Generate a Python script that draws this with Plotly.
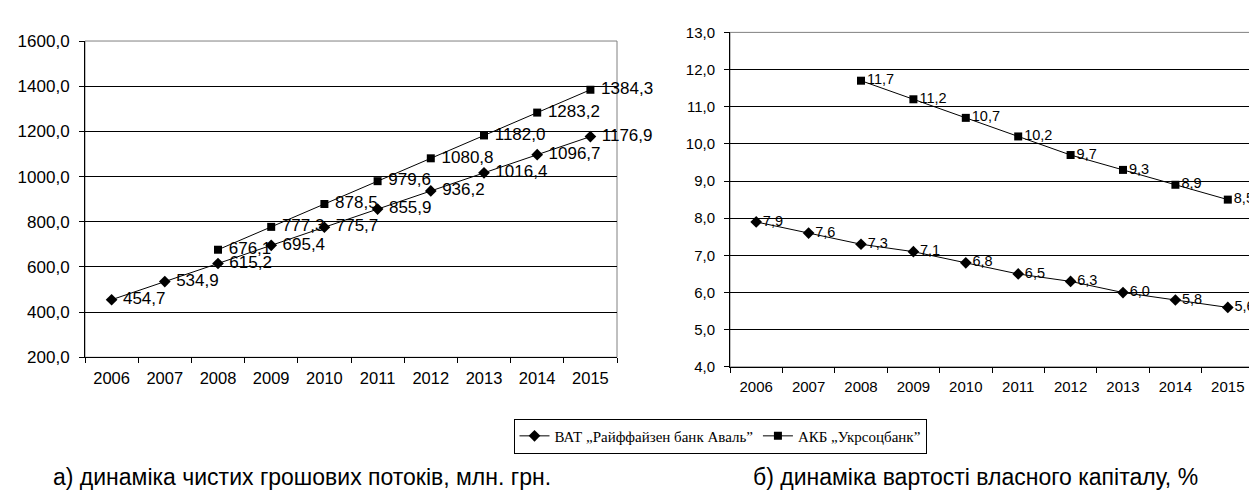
import plotly.graph_objects as go

years = ["2006", "2007", "2008", "2009", "2010", "2011", "2012", "2013", "2014", "2015"]
years_usb = ["2008", "2009", "2010", "2011", "2012", "2013", "2014", "2015"]

# a) net cash flows, mln UAH
aval_cash = [454.7, 534.9, 615.2, 695.4, 775.7, 855.9, 936.2, 1016.4, 1096.7, 1176.9]
usb_cash = [676.1, 777.3, 878.5, 979.6, 1080.8, 1182.0, 1283.2, 1384.3]

# b) cost of equity, %
aval_eq = [7.9, 7.6, 7.3, 7.1, 6.8, 6.5, 6.3, 6.0, 5.8, 5.6]
usb_eq = [11.7, 11.2, 10.7, 10.2, 9.7, 9.3, 8.9, 8.5]

name_aval = "ВАТ „Райффайзен банк Аваль”"
name_usb = "АКБ „Укрсоцбанк”"
caption_a = "а) динаміка чистих грошових потоків, млн. грн."
caption_b = "б) динаміка вартості власного капіталу, %"


def fmt(v, pad):
    return pad + ("%.1f" % v).replace(".", ",")


W, H = 1257, 490
fig = go.Figure()

FONT = "Liberation Sans, Arial, sans-serif"


def add(x, y, sym, name, xa, ya, show, size, pad):
    fig.add_trace(go.Scatter(
        x=x, y=y, mode="lines+markers+text", name=name,
        text=[fmt(v, pad) for v in y], textposition="middle right",
        textfont=dict(family=FONT, size=size, color="black"),
        line=dict(color="black", width=1),
        marker=dict(symbol=sym, size=9 if sym == "diamond" else 8, color="black"),
        xaxis=xa, yaxis=ya, showlegend=show, cliponaxis=False,
    ))


add(years, aval_cash, "diamond", name_aval, "x", "y", True, 17, " ")
add(years_usb, usb_cash, "square", name_usb, "x", "y", True, 17, " ")
add(years, aval_eq, "diamond", name_aval, "x2", "y2", False, 14.5, "")
add(years_usb, usb_eq, "square", name_usb, "x2", "y2", False, 14.5, "")


def px_x(a, b):
    return [a / W, b / W]


def px_y(top, bottom):
    return [1 - bottom / H, 1 - top / H]


xcommon = dict(type="category", categoryorder="array", categoryarray=years,
               range=[-0.5, 9.5], showline=True, linecolor="black", linewidth=1,
               ticks="outside", tickson="boundaries", ticklen=5, tickcolor="black",
               showgrid=False, zeroline=False, ticklabelstandoff=6)
ycommon = dict(showline=True, linecolor="black", linewidth=1, ticks="outside",
               ticklen=5, tickcolor="black", showgrid=True, gridcolor="black",
               gridwidth=1, zeroline=False, tickformat=".1f", ticklabelstandoff=6)

fig.update_layout(
    width=W, height=H, margin=dict(l=0, r=0, t=0, b=0),
    paper_bgcolor="white", plot_bgcolor="white",
    separators=", ",
    font=dict(family=FONT, color="black"),
    xaxis=dict(domain=px_x(77, 609), anchor="y", tickfont=dict(size=16.5), **xcommon),
    yaxis=dict(domain=px_y(25, 354), anchor="x", range=[200, 1600], dtick=200,
               tickfont=dict(size=17), **ycommon),
    xaxis2=dict(domain=px_x(722, 1246), anchor="y2", tickfont=dict(size=15), **xcommon),
    yaxis2=dict(domain=px_y(16, 364), anchor="x2", range=[4, 13], dtick=1,
                tickfont=dict(size=15), **ycommon),
    legend=dict(orientation="h", x=712 / W, y=1 - 436 / H, xanchor="center", yanchor="middle",
                bordercolor="black", borderwidth=1, bgcolor="white",
                font=dict(family="Liberation Serif, Times New Roman, serif", size=15),
                itemwidth=30, tracegroupgap=0),
    shapes=[
        dict(type="rect", xref="x domain", yref="y domain", x0=0, x1=1, y0=0, y1=1,
             line=dict(color="#808080", width=1), layer="below"),
        dict(type="rect", xref="x2 domain", yref="y2 domain", x0=0, x1=1, y0=0, y1=1,
             line=dict(color="#808080", width=1), layer="below"),
    ],
    annotations=[
        dict(text=caption_a, xref="paper", yref="paper", x=43 / W, y=1 - 479 / H,
             xanchor="left", yanchor="middle", showarrow=False,
             font=dict(family=FONT, size=23)),
        dict(text=caption_b, xref="paper", yref="paper", x=743 / W, y=1 - 479 / H,
             xanchor="left", yanchor="middle", showarrow=False,
             font=dict(family=FONT, size=23)),
    ],
)

fig.write_html("out.html")
